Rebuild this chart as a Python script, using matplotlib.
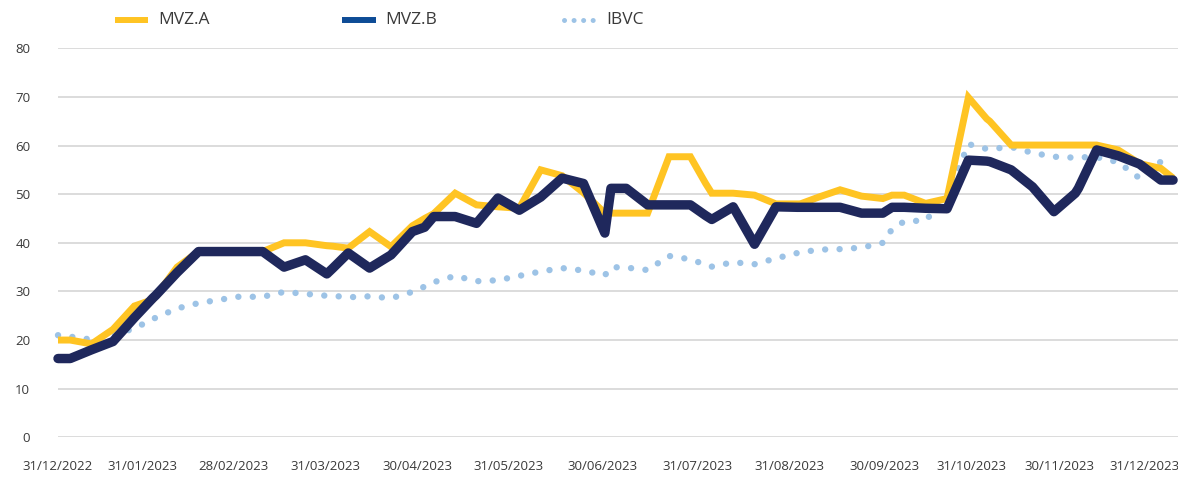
import matplotlib
matplotlib.use("Agg")
import matplotlib.pyplot as plt
from matplotlib.lines import Line2D
import pandas as pd

dates = ["2022-12-31", "2023-01-04", "2023-01-11", "2023-01-18", "2023-01-25", "2023-01-31",
         "2023-02-01", "2023-02-08", "2023-02-15", "2023-02-22", "2023-02-28", "2023-03-01",
         "2023-03-08", "2023-03-15", "2023-03-22", "2023-03-29", "2023-03-31", "2023-04-05",
         "2023-04-12", "2023-04-19", "2023-04-26", "2023-04-30", "2023-05-03", "2023-05-10",
         "2023-05-17", "2023-05-24", "2023-05-31", "2023-06-07", "2023-06-14", "2023-06-21",
         "2023-06-28", "2023-06-30", "2023-07-05", "2023-07-12", "2023-07-19", "2023-07-26",
         "2023-07-31", "2023-08-02", "2023-08-09", "2023-08-16", "2023-08-23", "2023-08-30",
         "2023-08-31", "2023-09-06", "2023-09-13", "2023-09-20", "2023-09-27", "2023-09-30",
         "2023-10-04", "2023-10-11", "2023-10-18", "2023-10-25", "2023-10-31", "2023-11-01",
         "2023-11-08", "2023-11-15", "2023-11-22", "2023-11-29", "2023-11-30", "2023-12-06",
         "2023-12-13", "2023-12-20", "2023-12-27", "2023-12-31"]

mvz_a = [20.0, 20.0, 19.2, 22.2, 27.0, 28.3, 29.0, 35.0, 38.2, 38.2,
         38.2, 38.2, 38.2, 40.0, 40.0, 39.4, 39.3, 38.9, 42.3, 39.2,
         43.5, 45.0, 46.0, 50.2, 47.8, 47.4, 47.1, 55.0, 53.8, 50.3,
         46.1, 46.1, 46.1, 46.1, 57.7, 57.7, 52.2, 50.2, 50.2, 49.8,
         48.0, 48.0, 48.0, 49.4, 50.9, 49.6, 49.1, 49.8, 49.8, 48.1,
         49.1, 69.9, 65.5, 65.0, 60.1, 60.1, 60.1, 60.1, 60.1, 60.1,
         59.1, 56.3, 55.3, 53.3]

mvz_b = [16.2, 16.2, 18.0, 19.7, 24.6, 28.6, 29.2, 33.9, 38.2, 38.2,
         38.2, 38.2, 38.2, 35.0, 36.5, 33.6, 34.8, 37.9, 34.8, 37.5,
         42.3, 43.2, 45.4, 45.4, 44.0, 49.2, 46.7, 49.4, 53.3, 52.2,
         42.0, 51.2, 51.2, 47.8, 47.8, 47.8, 45.6, 44.8, 47.4, 39.7,
         47.4, 47.3, 47.3, 47.3, 47.3, 46.1, 46.1, 47.3, 47.3, 47.1,
         47.0, 57.0, 56.8, 56.7, 55.0, 51.5, 46.4, 50.2, 51.2, 59.1,
         57.9, 56.2, 52.9, 52.9]

ibvc = [21.0, 20.7, 20.1, 21.0, 22.4, 24.3, 24.6, 26.5, 27.6, 28.3,
        28.9, 28.9, 28.9, 29.9, 29.5, 29.1, 29.1, 28.8, 29.0, 28.6,
        29.9, 31.0, 31.9, 33.2, 32.1, 32.3, 33.2, 34.1, 34.8, 34.3,
        33.3, 35.0, 34.9, 34.4, 37.3, 36.6, 35.5, 35.1, 36.0, 35.6,
        36.8, 37.9, 38.0, 38.6, 38.7, 39.0, 40.0, 42.8, 44.4, 44.6,
        49.5, 60.3, 59.3, 59.3, 59.7, 58.5, 57.7, 57.5, 57.6, 57.6,
        56.6, 53.3, 56.7, 56.0]

tick_labels = ["31/12/2022", "31/01/2023", "28/02/2023", "31/03/2023", "30/04/2023",
               "31/05/2023", "30/06/2023", "31/07/2023", "31/08/2023", "30/09/2023",
               "31/10/2023", "30/11/2023", "31/12/2023"]
# label positions along the axis (days since start), as laid out in the picture
tick_days = [0, 27.5, 57.4, 87.4, 117.8, 147.3, 178.1, 209.2, 239.3, 270.5, 298.9, 327.8, 355.8]

series_names = ["MVZ.A", "MVZ.B", "IBVC"]

YELLOW = "#FFC423"
NAVY = "#1F285C"
NAVY_LEG = "#0E4C96"
LIGHT = "#9DC3E6"
TEXT = "#3A3A3A"
GRID = "#D9D9D9"

plt.rcParams["font.family"] = ["Open Sans", "DejaVu Sans"]

d = pd.to_datetime(dates)
x = (d - d[0]).days.to_numpy()

W, H = 1178, 500
fig = plt.figure(figsize=(W / 100, H / 100), dpi=100)
ax = fig.add_axes([58 / W, 62.7 / H, (W - 58) / W, 389.0 / H])

ax.plot(x, ibvc, color=LIGHT, lw=4.6, linestyle=(0, (0.01, 2.25)),
        dash_capstyle="round", zorder=2, clip_on=False)
ax.plot(x, mvz_a, color=YELLOW, lw=5.0, solid_joinstyle="miter",
        solid_capstyle="butt", zorder=3, clip_on=False)
ax.plot(x, mvz_b, color=NAVY, lw=6.8, solid_joinstyle="round",
        solid_capstyle="round", zorder=4, clip_on=False)

ax.set_xlim(0, (W - 58) / 3.055)
ax.set_ylim(0, 80)
ax.set_yticks(range(0, 81, 10))
ax.set_xticks(tick_days)
ax.set_xticklabels(tick_labels)
ax.grid(axis="y", color=GRID, lw=1.3, zorder=0)
ax.set_axisbelow(True)
for s in ax.spines.values():
    s.set_visible(False)
ax.tick_params(axis="both", length=0, labelcolor=TEXT, labelsize=9.5)
ax.tick_params(axis="y", pad=20)
ax.tick_params(axis="x", pad=16)

# legend (manual, top row)
ly = 1 - 20 / H
fig.add_artist(Line2D([115 / W, 148 / W], [ly, ly], color=YELLOW, lw=4.3,
                      solid_capstyle="butt", transform=fig.transFigure))
fig.add_artist(Line2D([342 / W, 376 / W], [ly, ly], color=NAVY_LEG, lw=4.3,
                      solid_capstyle="butt", transform=fig.transFigure))
fig.add_artist(Line2D([564 / W, 593 / W], [ly, ly], color=LIGHT, lw=3.6,
                      linestyle=(0, (0.01, 1.9)), dash_capstyle="round",
                      transform=fig.transFigure))
for xp, name in zip([158, 385, 606], series_names):
    fig.text(xp / W, ly, name, fontsize=12.5, color=TEXT, va="center", ha="left")

fig.savefig("out.png", dpi=100)
